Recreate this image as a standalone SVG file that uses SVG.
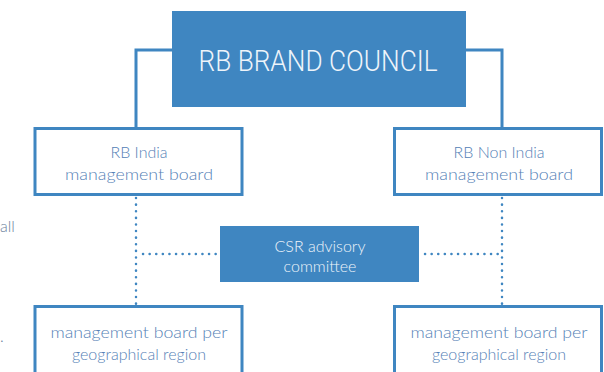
<svg xmlns="http://www.w3.org/2000/svg" width="604" height="372" viewBox="0 0 604 372">
<style>
.box{fill:#ffffff;stroke:#3f86c1;stroke-width:3}
.fill{fill:#3f86c1}
.line{fill:none;stroke:#3f86c1;stroke-width:3}
.dot{fill:none;stroke:#3f86c1;stroke-width:2.5;stroke-dasharray:0.1 6.5;stroke-linecap:round}
.t{font-family:Lato,"Open Sans","Liberation Sans",sans-serif;font-weight:300;font-size:16px;fill:#5581b6;text-anchor:middle}
.w{fill:#eef4fa}
.h{font-family:Roboto,"Liberation Sans",sans-serif;font-weight:300;font-size:29px}
</style>
<rect width="604" height="372" fill="#ffffff"/>
<g id="connectors">
<polyline class="line" points="172,50 136,50 136,128"/>
<polyline class="line" points="466,50 502,50 502,128"/>
<line class="dot" x1="136" y1="198" x2="136" y2="304"/>
<line class="dot" x1="502" y1="198" x2="502" y2="304"/>
<line class="dot" x1="143" y1="254" x2="220" y2="254"/>
<line class="dot" x1="425" y1="254" x2="498" y2="254"/>
</g>
<g id="council">
<rect class="fill" x="172" y="11" width="294" height="96"/>
<text class="t w h" x="318" y="71" textLength="239" lengthAdjust="spacingAndGlyphs">RB BRAND COUNCIL</text>
</g>
<g id="india">
<rect class="box" x="35" y="128.5" width="207" height="66"/>
<text class="t" x="139" y="158">RB India</text>
<text class="t" x="139" y="180" textLength="148" lengthAdjust="spacingAndGlyphs">management board</text>
</g>
<g id="nonindia">
<rect class="box" x="394.5" y="128.5" width="207" height="66"/>
<text class="t" x="499" y="158">RB Non India</text>
<text class="t" x="499" y="180" textLength="148" lengthAdjust="spacingAndGlyphs">management board</text>
</g>
<g id="csr">
<rect class="fill" x="220" y="226" width="199" height="56"/>
<text class="t w" x="320" y="252">CSR advisory</text>
<text class="t w" x="320" y="272">committee</text>
</g>
<g id="region-left">
<rect class="box" x="35" y="306.5" width="207" height="70"/>
<text class="t" x="139" y="338" textLength="177" lengthAdjust="spacingAndGlyphs">management board per</text>
<text class="t" x="139" y="360">geographical region</text>
</g>
<g id="region-right">
<rect class="box" x="394.5" y="306.5" width="207" height="70"/>
<text class="t" x="499" y="338" textLength="177" lengthAdjust="spacingAndGlyphs">management board per</text>
<text class="t" x="499" y="360">geographical region</text>
</g>
<text class="t" x="0" y="232" font-size="17" style="text-anchor:start;fill:#6b819c">all</text>
<text class="t" x="0" y="342" font-size="17" style="text-anchor:start;fill:#6b819c">.</text>
</svg>
